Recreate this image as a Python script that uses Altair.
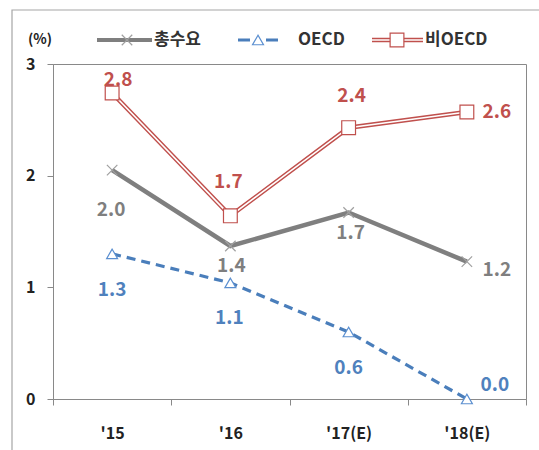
import altair as alt
import pandas as pd

years = ["'15", "'16", "'17(E)", "'18(E)"]
total = [2.05, 1.37, 1.67, 1.23]
oecd = [1.30, 1.04, 0.60, 0.00]
non_oecd = [2.74, 1.64, 2.43, 2.57]
total_labels = ["2.0", "1.4", "1.7", "1.2"]
oecd_labels = ["1.3", "1.1", "0.6", "0.0"]
non_oecd_labels = ["2.8", "1.7", "2.4", "2.6"]
series_names = ["총수요", "OECD", "비OECD"]

# label placement offsets (pixels)
total_off = [(-1, 40), (1, 20), (2, 20), (30, 8)]
oecd_off = [(0, 36), (-1, 35), (0, 36), (28, -14)]
non_oecd_off = [(6, -13), (-2, -34), (3, -32), (30, 0)]

FONT = "Noto Sans CJK KR"
GRAY = "#7f7f7f"
BLUE = "#4a7ebb"
RED = "#c0504d"


def frame(vals, labels):
    return pd.DataFrame({"year": years, "v": vals, "lab": labels})


d_total = frame(total, total_labels)
d_oecd = frame(oecd, oecd_labels)
d_non = frame(non_oecd, non_oecd_labels)

W, H = 473, 335

x = alt.X("year:N", sort=years, title=None,
          scale=alt.Scale(paddingInner=0, paddingOuter=0),
          axis=alt.Axis(labelAngle=0, tickBand="extent", labelFont=FONT,
                        labelFontSize=16, labelFontWeight="bold", labelColor="#222",
                        labelPadding=20, tickSize=6, tickColor="#898989",
                        domainColor="#898989", grid=False))
y = alt.Y("v:Q", title=None,
          scale=alt.Scale(domain=[0, 3], nice=False, zero=True),
          axis=alt.Axis(values=[0, 1, 2, 3], format="d", labelFont=FONT,
                        labelFontSize=16, labelFontWeight="bold", labelColor="#222",
                        labelPadding=12, tickSize=6, tickColor="#898989",
                        domainColor="#898989", grid=False))

cross_path = "M-1,-1L1,1M1,-1L-1,1"


def labels_layers(df, offs, color):
    out = []
    for i, (dx, dy) in enumerate(offs):
        out.append(alt.Chart(df.iloc[[i]]).mark_text(
            font=FONT, fontSize=19, fontWeight="bold", color=color,
            baseline="middle", dx=dx, dy=dy).encode(x=x, y=y, text="lab:N"))
    return out


total_line = alt.Chart(d_total).mark_line(color=GRAY, strokeWidth=4.5).encode(x=x, y=y)
total_pts = alt.Chart(d_total).mark_point(shape=cross_path, size=110, filled=False,
                                          color="#a0a0a0", strokeWidth=1.2, opacity=1).encode(x=x, y=y)
oecd_line = alt.Chart(d_oecd).mark_line(color=BLUE, strokeWidth=3.2,
                                        strokeDash=[9, 6]).encode(x=x, y=y)
oecd_pts = alt.Chart(d_oecd).mark_point(shape="triangle-up", size=120, filled=True,
                                        fill="white", stroke="#5b8fd0", strokeWidth=1.2,
                                        opacity=1).encode(x=x, y=y)
non_outer = alt.Chart(d_non).mark_line(color=RED, strokeWidth=4.5).encode(x=x, y=y)
non_inner = alt.Chart(d_non).mark_line(color="white", strokeWidth=1.6).encode(x=x, y=y)
non_pts = alt.Chart(d_non).mark_point(shape="square", size=190, filled=True,
                                      fill="white", stroke=RED, strokeWidth=1.2,
                                      opacity=1).encode(x=x, y=y)

one = pd.DataFrame({"k": [0]})
base = alt.Chart(one)

outer_frame = base.mark_rect(fill=None, stroke="#a6a6a6", strokeWidth=1.2).encode(
    x=alt.value(-41), x2=alt.value(500), y=alt.value(-54), y2=alt.value(420))

LY = -24
leg_items = [
    base.mark_rule(color=GRAY, strokeWidth=4).encode(x=alt.value(44), x2=alt.value(99), y=alt.value(LY)),
    base.mark_point(shape=cross_path, size=110, filled=False, color="#a0a0a0",
                    strokeWidth=1.2, opacity=1).encode(x=alt.value(74), y=alt.value(LY)),
    base.mark_text(text=series_names[0], font=FONT, fontSize=17, fontWeight="bold",
                   color="#333", align="left", baseline="middle").encode(x=alt.value(101), y=alt.value(LY)),
    base.mark_rule(color=BLUE, strokeWidth=3.2, strokeDash=[12, 16]).encode(
        x=alt.value(185), x2=alt.value(225), y=alt.value(LY)),
    base.mark_point(shape="triangle-up", size=120, filled=True, fill="white",
                    stroke="#5b8fd0", strokeWidth=1.2, opacity=1).encode(x=alt.value(205), y=alt.value(LY)),
    base.mark_text(text=series_names[1], font=FONT, fontSize=17, fontWeight="bold",
                   color="#333", align="left", baseline="middle").encode(x=alt.value(245), y=alt.value(LY)),
    base.mark_rule(color=RED, strokeWidth=4.5).encode(x=alt.value(319), x2=alt.value(370), y=alt.value(LY)),
    base.mark_rule(color="white", strokeWidth=1.6).encode(x=alt.value(319), x2=alt.value(370), y=alt.value(LY)),
    base.mark_point(shape="square", size=190, filled=True, fill="white", stroke=RED,
                    strokeWidth=1.2, opacity=1).encode(x=alt.value(344), y=alt.value(LY)),
    base.mark_text(text=series_names[2], font=FONT, fontSize=17, fontWeight="bold",
                   color="#333", align="left", baseline="middle").encode(x=alt.value(372), y=alt.value(LY)),
    base.mark_text(text="(%)", font=FONT, fontSize=14, fontWeight="bold",
                   color="#222", align="center", baseline="middle").encode(x=alt.value(-13), y=alt.value(LY)),
]

chart = alt.layer(
    outer_frame,
    total_line, oecd_line, non_outer, non_inner,
    total_pts, oecd_pts, non_pts,
    *labels_layers(d_total, total_off, GRAY),
    *labels_layers(d_oecd, oecd_off, "#4f81bd"),
    *labels_layers(d_non, non_oecd_off, RED),
    *leg_items,
).properties(
    width=W, height=H,
    autosize=alt.AutoSizeParams(type="none"),
    padding={"left": 53, "top": 64, "right": 13, "bottom": 51},
    background="white",
).configure_view(stroke="#898989", strokeWidth=1)

chart.save("out.html", embed_options={"renderer": "svg", "actions": False})
